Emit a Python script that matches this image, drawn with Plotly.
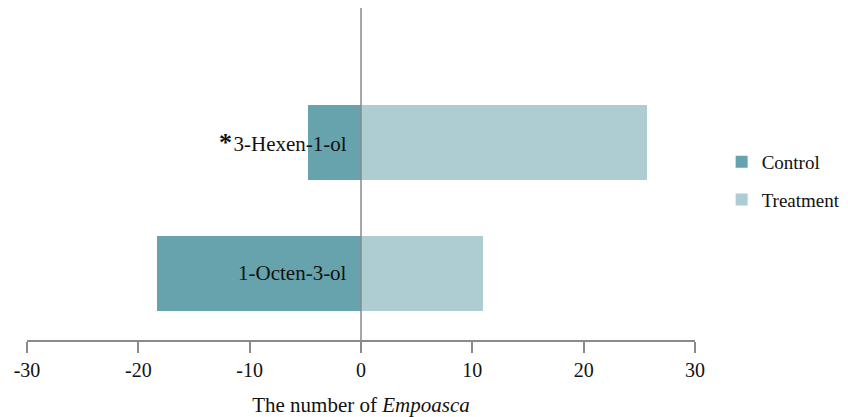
import plotly.graph_objects as go

categories = ["1-Octen-3-ol", "3-Hexen-1-ol"]
label_text = ["1-Octen-3-ol",
              "<span style='font-size:26px'><b>*</b></span><span style='font-size:6px'> </span>3-Hexen-1-ol"]
control = [-18.3, -4.8]
treatment = [11.0, 25.7]
x_ticks = [-30, -20, -10, 0, 10, 20, 30]

ypos = list(range(len(categories)))
FONT = "Liberation Serif, Times New Roman, serif"

fig = go.Figure()
fig.add_trace(go.Bar(y=ypos, x=control, orientation="h", name="Control",
                     marker=dict(color="#66A3AC", line=dict(width=0)), width=0.573,
                     legendgroup="c"))
fig.add_trace(go.Bar(y=ypos, x=treatment, orientation="h", name="Treatment",
                     marker=dict(color="#ADCDD2", line=dict(width=0)), width=0.573,
                     legendgroup="t"))

for y, t in zip(ypos, label_text):
    fig.add_annotation(x=0, y=y, xref="x", yref="y", text=t, showarrow=False,
                       xanchor="right", xshift=-12,
                       font=dict(family=FONT, size=21, color="#111"))

fig.add_shape(type="line", xref="x", yref="paper", x0=0, x1=0, y0=0, y1=1,
              line=dict(color="#8a8a8a", width=1.5))

fig.update_layout(
    width=848, height=417,
    margin=dict(l=27, r=153, t=8, b=77, autoexpand=False),
    paper_bgcolor="white", plot_bgcolor="white",
    barmode="relative", bargap=0,
    font=dict(family=FONT, size=20, color="#111"),
    showlegend=True,
    legend=dict(xref="container", yref="container", x=0.851, y=0.566,
                xanchor="left", yanchor="middle",
                font=dict(family=FONT, size=19, color="#111"),
                traceorder="grouped", tracegroupgap=10,
                bgcolor="rgba(0,0,0,0)"),
    xaxis=dict(range=[-30, 30], tickvals=x_ticks, ticktext=[str(v) for v in x_ticks],
               showgrid=False, zeroline=False, showline=True, linecolor="#8a8a8a",
               linewidth=1.5, ticks="outside", ticklen=11, tickcolor="#8a8a8a",
               tickwidth=1.5, tickfont=dict(family=FONT, size=20, color="#111"),
               automargin=False,
               title=dict(text="The number of <i>Empoasca</i>", standoff=18,
                          font=dict(family=FONT, size=21, color="#111"))),
    yaxis=dict(range=[-0.508, 2.027], showticklabels=False, showgrid=False,
               zeroline=False, showline=False, ticks="", automargin=False),
)

fig.write_html("out.html", config={"displayModeBar": False},
               post_script="document.body.style.margin='0';document.body.style.overflow='hidden';")
